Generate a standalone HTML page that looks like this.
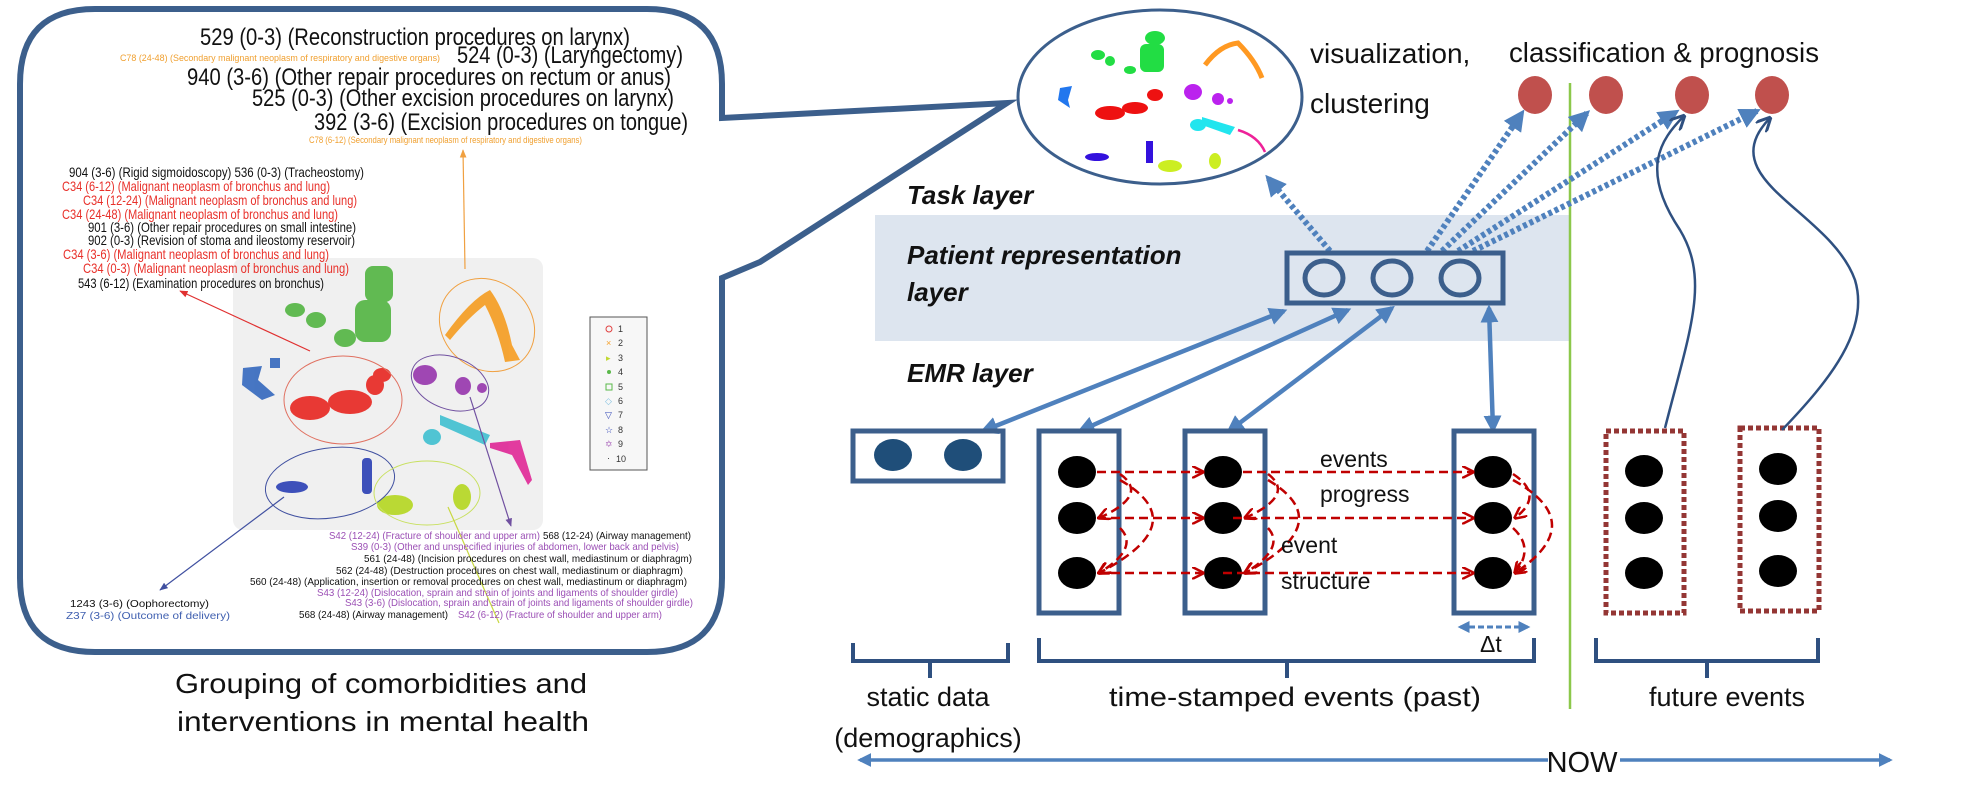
<!DOCTYPE html>
<html><head><meta charset="utf-8"><style>
html,body{margin:0;padding:0;background:#fff;}
svg{display:block;}
text{font-family:"Liberation Sans",sans-serif;}
</style></head><body>
<svg width="1969" height="788" viewBox="0 0 1969 788" xmlns="http://www.w3.org/2000/svg">
<defs>
<marker id="ab" viewBox="0 0 10 10" refX="8" refY="5" markerWidth="4" markerHeight="4" orient="auto-start-reverse"><path d="M0,0 L10,5 L0,10 z" fill="#4f81bd"/></marker>
<marker id="abd" viewBox="0 0 10 10" refX="8" refY="5" markerWidth="3.5" markerHeight="3.5" orient="auto"><path d="M0,0 L10,5 L0,10 z" fill="#4f81bd"/></marker>
<marker id="an" viewBox="0 0 10 10" refX="9" refY="5" markerWidth="6" markerHeight="6" orient="auto"><path d="M0,0 L10,5 L0,10" fill="none" stroke="#2f5080" stroke-width="2"/></marker>
<marker id="ar" viewBox="0 0 10 10" refX="9" refY="5" markerWidth="5" markerHeight="5" orient="auto"><path d="M0,0 L10,5 L0,10" fill="none" stroke="#c00000" stroke-width="2"/></marker>
<marker id="sm" viewBox="0 0 10 10" refX="9" refY="5" markerWidth="7" markerHeight="7" orient="auto"><path d="M0,1 L10,5 L0,9 z" fill="context-stroke"/></marker>
</defs>

<!-- speech bubble -->
<path d="M95,9 L647,9 Q722,9 722,84 L722,118 L1007,103 L760,262 L722,278 L722,578 Q722,652 647,652 L95,652 Q20,652 20,578 L20,84 Q20,9 95,9 Z" fill="#fff" stroke="#3c5f8c" stroke-width="6" stroke-linejoin="miter"/>

<!-- scatter panel -->
<rect x="233" y="258" width="310" height="272" rx="10" fill="#f0f0f0"/>
<g opacity="0.95">
<ellipse cx="295" cy="310" rx="10" ry="7" fill="#5ab84a"/><ellipse cx="316" cy="320" rx="10" ry="8" fill="#5ab84a"/><ellipse cx="345" cy="338" rx="11" ry="9" fill="#5ab84a"/>
<rect x="365" y="266" width="28" height="36" rx="8" fill="#5ab84a"/><rect x="355" y="300" width="36" height="42" rx="10" fill="#5ab84a"/>
<ellipse cx="310" cy="408" rx="20" ry="12" fill="#e8302a"/><ellipse cx="350" cy="402" rx="22" ry="12" fill="#e8302a"/><ellipse cx="375" cy="385" rx="9" ry="10" fill="#e8302a"/><ellipse cx="382" cy="375" rx="9" ry="7" fill="#e8302a"/>
<path d="M243,368 L262,366 L258,380 L275,395 L262,400 L242,385 Z" fill="#3d6fc0"/><rect x="270" y="358" width="10" height="10" fill="#3d6fc0"/>
<path d="M445,335 Q470,300 490,290 Q505,310 512,345 L520,360 L505,362 Q498,330 485,305 Q468,318 450,340 Z" fill="#f5a02a"/>
<ellipse cx="425" cy="375" rx="12" ry="10" fill="#9b3fb0"/><ellipse cx="463" cy="386" rx="8" ry="9" fill="#9b3fb0"/><ellipse cx="482" cy="388" rx="5" ry="5" fill="#9b3fb0"/>
<ellipse cx="432" cy="437" rx="9" ry="8" fill="#48c2d2"/><path d="M440,415 L490,435 L485,445 L440,425 Z" fill="#48c2d2"/>
<path d="M490,443 L520,440 L532,480 L528,485 L512,455 L490,448 Z" fill="#e0309a"/>
<ellipse cx="292" cy="487" rx="16" ry="6" fill="#3448b8"/><rect x="362" y="458" width="10" height="36" rx="4" fill="#3448b8"/>
<ellipse cx="395" cy="505" rx="18" ry="10" fill="#b8d82a"/><ellipse cx="462" cy="497" rx="9" ry="13" fill="#b8d82a"/>
</g>
<ellipse cx="343" cy="400" rx="59" ry="44" fill="none" stroke="#e07060" stroke-width="1"/>
<ellipse cx="487" cy="325" rx="50" ry="44" transform="rotate(40 487 325)" fill="none" stroke="#f0a040" stroke-width="1"/>
<ellipse cx="450" cy="383" rx="40" ry="26" transform="rotate(20 450 383)" fill="none" stroke="#7050a0" stroke-width="1"/>
<ellipse cx="330" cy="483" rx="65" ry="35" transform="rotate(-8 330 483)" fill="none" stroke="#4050a0" stroke-width="1"/>
<ellipse cx="427" cy="493" rx="53" ry="32" fill="none" stroke="#c8e060" stroke-width="1"/>
<rect x="590" y="317" width="57" height="153" fill="#f7f7f7" stroke="#555" stroke-width="1"/>
<g font-size="9" fill="#333">
<text x="618" y="332">1</text><text x="618" y="346">2</text><text x="618" y="361">3</text><text x="618" y="375">4</text><text x="618" y="390">5</text><text x="618" y="404">6</text><text x="618" y="418">7</text><text x="618" y="433">8</text><text x="618" y="447">9</text><text x="616" y="462">10</text>
<circle cx="609" cy="329" r="3" fill="none" stroke="#e04040"/><text x="606" y="346" fill="#f5a02a">×</text><text x="606" y="361" fill="#c0d830">▸</text><circle cx="609" cy="372" r="2" fill="#5ab84a"/><rect x="606" y="384" width="6" height="6" fill="none" stroke="#5ab84a"/><text x="605" y="404" fill="#80c0e0">◇</text><text x="605" y="418" fill="#3448b8">▽</text><text x="605" y="433" fill="#3448b8">☆</text><text x="605" y="447" fill="#b070c0">✡</text><text x="607" y="461">·</text>
</g>
<!-- bubble arrows -->
<line x1="465" y1="269" x2="463" y2="150" stroke="#f0a040" stroke-width="1.2" marker-end="url(#sm)"/>
<line x1="310" y1="351" x2="180" y2="291" stroke="#e03030" stroke-width="1.2" marker-end="url(#sm)"/>
<line x1="470" y1="397" x2="511" y2="526" stroke="#7050a0" stroke-width="1.2" marker-end="url(#sm)"/>
<line x1="284" y1="497" x2="160" y2="590" stroke="#4050a0" stroke-width="1.2" marker-end="url(#sm)"/>
<line x1="448" y1="507" x2="499" y2="623" stroke="#c8d840" stroke-width="1.2"/>

<!-- bubble text -->
<g fill="#111" font-size="24">
<text x="200" y="45" textLength="430" lengthAdjust="spacingAndGlyphs">529 (0-3) (Reconstruction procedures on larynx)</text>
<text x="457" y="63" textLength="226" lengthAdjust="spacingAndGlyphs">524 (0-3) (Laryngectomy)</text>
<text x="187" y="85" textLength="484" lengthAdjust="spacingAndGlyphs">940 (3-6) (Other repair procedures on rectum or anus)</text>
<text x="252" y="106" textLength="422" lengthAdjust="spacingAndGlyphs">525 (0-3) (Other excision procedures on larynx)</text>
<text x="314" y="130" textLength="374" lengthAdjust="spacingAndGlyphs">392 (3-6) (Excision procedures on tongue)</text>
</g>
<g fill="#f0a030" font-size="9">
<text x="120" y="61" textLength="320" lengthAdjust="spacingAndGlyphs">C78 (24-48) (Secondary malignant neoplasm of respiratory and digestive organs)</text>
<text x="309" y="143" textLength="273" lengthAdjust="spacingAndGlyphs">C78 (6-12) (Secondary malignant neoplasm of respiratory and digestive organs)</text>
</g>
<g font-size="14">
<text x="69" y="177" textLength="295" lengthAdjust="spacingAndGlyphs" fill="#111">904 (3-6) (Rigid sigmoidoscopy)  536 (0-3) (Tracheostomy)</text>
<text x="62" y="191" textLength="268" lengthAdjust="spacingAndGlyphs" fill="#e8302a">C34 (6-12) (Malignant neoplasm of bronchus and lung)</text>
<text x="83" y="205" textLength="274" lengthAdjust="spacingAndGlyphs" fill="#e8302a">C34 (12-24) (Malignant neoplasm of bronchus and lung)</text>
<text x="62" y="219" textLength="276" lengthAdjust="spacingAndGlyphs" fill="#e8302a">C34 (24-48) (Malignant neoplasm of bronchus and lung)</text>
<text x="88" y="232" textLength="268" lengthAdjust="spacingAndGlyphs" fill="#111">901 (3-6) (Other repair procedures on small intestine)</text>
<text x="88" y="245" textLength="267" lengthAdjust="spacingAndGlyphs" fill="#111">902 (0-3) (Revision of stoma and ileostomy reservoir)</text>
<text x="63" y="259" textLength="266" lengthAdjust="spacingAndGlyphs" fill="#e8302a">C34 (3-6) (Malignant neoplasm of bronchus and lung)</text>
<text x="83" y="273" textLength="266" lengthAdjust="spacingAndGlyphs" fill="#e8302a">C34 (0-3) (Malignant neoplasm of bronchus and lung)</text>
<text x="78" y="288" textLength="246" lengthAdjust="spacingAndGlyphs" fill="#111">543 (6-12) (Examination procedures on bronchus)</text>
</g>
<g font-size="10.5">
<text x="329" y="539" textLength="211" lengthAdjust="spacingAndGlyphs" fill="#9b4fb5">S42 (12-24) (Fracture of shoulder and upper arm)</text>
<text x="543" y="539" textLength="148" lengthAdjust="spacingAndGlyphs" fill="#111">568 (12-24) (Airway management)</text>
<text x="351" y="550" textLength="328" lengthAdjust="spacingAndGlyphs" fill="#9b4fb5">S39 (0-3) (Other and unspecified injuries of abdomen, lower back and pelvis)</text>
<text x="364" y="562" textLength="328" lengthAdjust="spacingAndGlyphs" fill="#111">561 (24-48) (Incision procedures on chest wall, mediastinum or diaphragm)</text>
<text x="336" y="574" textLength="347" lengthAdjust="spacingAndGlyphs" fill="#111">562 (24-48) (Destruction procedures on chest wall, mediastinum or diaphragm)</text>
<text x="250" y="585" textLength="437" lengthAdjust="spacingAndGlyphs" fill="#111">560 (24-48) (Application, insertion or removal procedures on chest wall, mediastinum or diaphragm)</text>
<text x="317" y="596" textLength="361" lengthAdjust="spacingAndGlyphs" fill="#9b4fb5">S43 (12-24) (Dislocation, sprain and strain of joints and ligaments of shoulder girdle)</text>
<text x="345" y="606" textLength="348" lengthAdjust="spacingAndGlyphs" fill="#9b4fb5">S43 (3-6) (Dislocation, sprain and strain of joints and ligaments of shoulder girdle)</text>
<text x="299" y="618" textLength="149" lengthAdjust="spacingAndGlyphs" fill="#111">568 (24-48) (Airway management)</text>
<text x="458" y="618" textLength="204" lengthAdjust="spacingAndGlyphs" fill="#9b4fb5">S42 (6-12) (Fracture of shoulder and upper arm)</text>
<text x="70" y="607" textLength="139" lengthAdjust="spacingAndGlyphs" fill="#111">1243 (3-6) (Oophorectomy)</text>
<text x="66" y="619" textLength="164" lengthAdjust="spacingAndGlyphs" fill="#4060b0">Z37 (3-6) (Outcome of delivery)</text>
</g>
<g font-size="28" fill="#111" text-anchor="middle">
<text x="381" y="693" textLength="412" lengthAdjust="spacingAndGlyphs">Grouping of comorbidities and</text>
<text x="383" y="731" textLength="412" lengthAdjust="spacingAndGlyphs">interventions in mental health</text>
</g>

<!-- viz circle -->
<ellipse cx="1160" cy="97" rx="142" ry="87" fill="#fff" stroke="#3c5f8c" stroke-width="3"/>
<g>
<ellipse cx="1155" cy="38" rx="10" ry="7" fill="#22dd44"/><rect x="1140" y="44" width="24" height="28" rx="6" fill="#22dd44"/>
<ellipse cx="1098" cy="55" rx="7" ry="5" fill="#22dd44"/><ellipse cx="1110" cy="61" rx="5" ry="5" fill="#22dd44"/><ellipse cx="1130" cy="70" rx="6" ry="4" fill="#22dd44"/>
<path d="M1205,65 Q1220,45 1238,43 Q1255,60 1262,78" fill="none" stroke="#ff9922" stroke-width="5"/>
<path d="M1060,88 L1072,86 L1068,100 L1070,108 L1058,100 Z" fill="#2277ee"/>
<ellipse cx="1110" cy="113" rx="15" ry="7" fill="#ee1111"/><ellipse cx="1135" cy="108" rx="13" ry="6" fill="#ee1111"/><ellipse cx="1155" cy="95" rx="8" ry="6" fill="#ee1111"/>
<ellipse cx="1193" cy="92" rx="9" ry="8" fill="#bb22ee"/><ellipse cx="1218" cy="99" rx="6" ry="6" fill="#bb22ee"/><circle cx="1230" cy="101" r="3" fill="#bb22ee"/>
<ellipse cx="1198" cy="125" rx="8" ry="6" fill="#22e5ee"/><path d="M1202,117 L1235,127 L1230,135 L1202,125 Z" fill="#22e5ee"/>
<path d="M1238,130 Q1258,136 1265,152" fill="none" stroke="#ee2299" stroke-width="2.5"/>
<ellipse cx="1097" cy="157" rx="12" ry="4" fill="#3311dd"/><rect x="1146" y="141" width="7" height="22" fill="#3311dd"/>
<ellipse cx="1170" cy="166" rx="12" ry="6" fill="#ccee22"/><ellipse cx="1215" cy="161" rx="6" ry="8" fill="#ccee22"/>
</g>
<g font-size="28" fill="#111">
<text x="1310" y="63">visualization,</text>
<text x="1310" y="113">clustering</text>
<text x="1509" y="62" textLength="310" lengthAdjust="spacingAndGlyphs">classification &amp; prognosis</text>
</g>

<!-- band -->
<rect x="875" y="215" width="695" height="126" fill="#dde5ef"/>
<line x1="1570" y1="83" x2="1570" y2="709" stroke="#8cc84b" stroke-width="2.5"/>
<g font-size="26" font-weight="bold" font-style="italic" fill="#111">
<text x="907" y="204">Task layer</text>
<text x="907" y="264">Patient representation</text>
<text x="907" y="301">layer</text>
<text x="907" y="382">EMR layer</text>
</g>

<!-- red result dots -->
<g fill="#c0504d"><ellipse cx="1535" cy="95" rx="17" ry="19"/><ellipse cx="1606" cy="95" rx="17" ry="19"/><ellipse cx="1692" cy="95" rx="17" ry="19"/><ellipse cx="1772" cy="95" rx="17" ry="19"/></g>

<!-- dotted arrows -->
<g stroke="#4f81bd" stroke-width="6" stroke-dasharray="4,3" fill="none" marker-end="url(#abd)">
<line x1="1330" y1="251" x2="1268" y2="178"/>
<line x1="1427" y1="251" x2="1522" y2="113"/>
<line x1="1442" y1="251" x2="1587" y2="113"/>
<line x1="1458" y1="251" x2="1676" y2="112"/>
<line x1="1473" y1="251" x2="1757" y2="111"/>
</g>

<!-- rep box -->
<rect x="1287" y="253" width="216" height="50" fill="none" stroke="#3c5f8c" stroke-width="5"/>
<g fill="none" stroke="#3c5f8c" stroke-width="5"><ellipse cx="1324" cy="278" rx="19" ry="17"/><ellipse cx="1392" cy="278" rx="19" ry="17"/><ellipse cx="1460" cy="278" rx="19" ry="17"/></g>

<!-- solid double arrows -->
<g stroke="#4f81bd" stroke-width="4.5" fill="none" marker-start="url(#ab)" marker-end="url(#ab)">
<line x1="1284" y1="311" x2="983" y2="431"/>
<line x1="1348" y1="310" x2="1080" y2="431"/>
<line x1="1392" y1="308" x2="1229" y2="431"/>
<line x1="1489" y1="308" x2="1493" y2="430"/>
</g>

<!-- static box -->
<rect x="853" y="431" width="150" height="50" fill="none" stroke="#3c5f8c" stroke-width="5"/>
<g fill="#1f4e79"><ellipse cx="893" cy="455" rx="19" ry="16"/><ellipse cx="963" cy="455" rx="19" ry="16"/></g>

<!-- event boxes -->
<g fill="none" stroke="#3c5f8c" stroke-width="5">
<rect x="1039" y="431" width="80" height="182"/><rect x="1185" y="431" width="80" height="182"/><rect x="1454" y="431" width="80" height="182"/>
</g>
<g fill="none" stroke="#943634" stroke-width="5" stroke-dasharray="5,3">
<rect x="1606" y="431" width="78" height="182"/><rect x="1740" y="428" width="79" height="183"/>
</g>
<g fill="#000">
<ellipse cx="1077" cy="472" rx="19" ry="16"/><ellipse cx="1077" cy="518" rx="19" ry="16"/><ellipse cx="1077" cy="573" rx="19" ry="16"/>
<ellipse cx="1223" cy="472" rx="19" ry="16"/><ellipse cx="1223" cy="518" rx="19" ry="16"/><ellipse cx="1223" cy="573" rx="19" ry="16"/>
<ellipse cx="1493" cy="472" rx="19" ry="16"/><ellipse cx="1493" cy="518" rx="19" ry="16"/><ellipse cx="1493" cy="573" rx="19" ry="16"/>
<ellipse cx="1644" cy="471" rx="19" ry="16"/><ellipse cx="1644" cy="518" rx="19" ry="16"/><ellipse cx="1644" cy="573" rx="19" ry="16"/>
<ellipse cx="1778" cy="469" rx="19" ry="16"/><ellipse cx="1778" cy="516" rx="19" ry="16"/><ellipse cx="1778" cy="571" rx="19" ry="16"/>
</g>

<!-- red dashed -->
<g stroke="#c00000" stroke-width="2.5" stroke-dasharray="9,5" fill="none" marker-end="url(#ar)">
<line x1="1097" y1="472" x2="1203" y2="472"/><line x1="1097" y1="518" x2="1203" y2="518"/><line x1="1097" y1="573" x2="1203" y2="573"/>
<line x1="1243" y1="472" x2="1473" y2="472"/><line x1="1233" y1="518" x2="1473" y2="518"/><line x1="1223" y1="573" x2="1473" y2="573"/>
<path d="M1120,474 Q1150,495 1099,518"/><path d="M1120,480 Q1195,523 1099,573"/><path d="M1120,528 Q1140,548 1099,573"/>
<path d="M1268,474 Q1296,495 1245,518"/><path d="M1268,480 Q1340,523 1245,573"/><path d="M1268,528 Q1286,548 1245,573"/>
<path d="M1513,474 Q1545,495 1515,518"/><path d="M1513,480 Q1590,523 1515,573"/><path d="M1513,528 Q1535,548 1515,573"/>
</g>
<g font-size="23" fill="#111">
<text x="1320" y="467">events</text><text x="1320" y="502">progress</text>
<text x="1281" y="553">event</text><text x="1281" y="589">structure</text>
<text x="1480" y="652">Δt</text>
</g>
<line x1="1460" y1="627" x2="1528" y2="627" stroke="#4f81bd" stroke-width="3" stroke-dasharray="6,3" marker-start="url(#ab)" marker-end="url(#ab)"/>

<!-- curved future arrows -->
<g stroke="#2f5080" stroke-width="2.5" fill="none" marker-end="url(#an)">
<path d="M1665,428 C1690,330 1710,280 1680,230 C1640,170 1660,140 1684,116"/>
<path d="M1782,430 C1830,380 1870,330 1855,280 C1830,210 1710,180 1770,118"/>
</g>

<!-- braces -->
<g stroke="#2f5080" stroke-width="4" fill="none">
<path d="M853,643 L853,661 L1008,661 L1008,643 M930,661 L930,678"/>
<path d="M1039,638 L1039,661 L1534,661 L1534,638 M1287,661 L1287,678"/>
<path d="M1596,638 L1596,661 L1818,661 L1818,638 M1707,661 L1707,678"/>
</g>
<g font-size="27" fill="#111" text-anchor="middle">
<text x="928" y="706">static data</text>
<text x="928" y="747">(demographics)</text>
<text x="1295" y="706" textLength="372" lengthAdjust="spacingAndGlyphs">time-stamped events (past)</text>
<text x="1727" y="706">future events</text>
<text x="1582" y="772" font-size="29">NOW</text>
</g>
<line x1="1548" y1="760" x2="860" y2="760" stroke="#4f81bd" stroke-width="3.5" marker-end="url(#ab)"/>
<line x1="1620" y1="760" x2="1890" y2="760" stroke="#4f81bd" stroke-width="3.5" marker-end="url(#ab)"/>
</svg>
</body></html>
